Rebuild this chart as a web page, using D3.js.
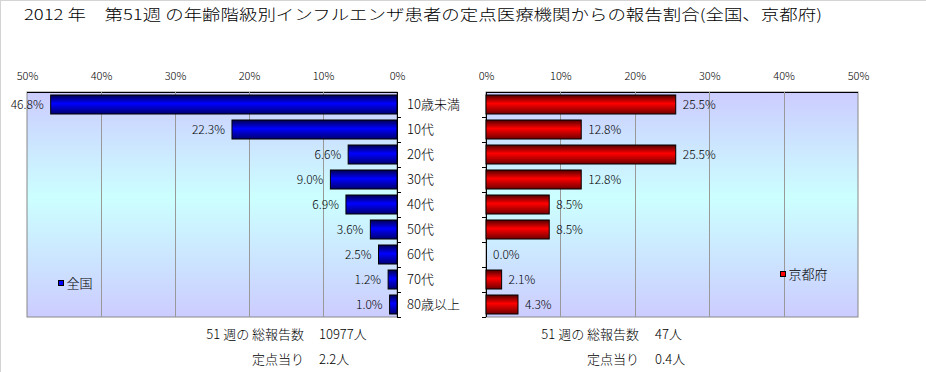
<!DOCTYPE html>
<html>
<head>
<meta charset="utf-8">
<script src="https://cdn.jsdelivr.net/npm/d3@7"></script>
<style>
  body { margin: 0; background: #fff; }
  svg text { font-family: "Noto Sans CJK JP", "Noto Sans", sans-serif; fill: #000; }
</style>
</head>
<body>
<script>
// data
let categories = ['10歳未満', '10代', '20代', '30代', '40代', '50代', '60代', '70代', '80歳以上'];
let zenkoku = [46.8, 22.3, 6.6, 9.0, 6.9, 3.6, 2.5, 1.2, 1.0];
let kyoto = [25.5, 12.8, 25.5, 12.8, 8.5, 8.5, 0.0, 2.1, 4.3];
let tickValues = [0, 10, 20, 30, 40, 50];
let titleText = '2012 年\u3000第51週 の年齢階級別インフルエンザ患者の定点医療機関からの報告割合(全国、京都府)';
let notes = [
  { label: '51 週の 総報告数', zen: '10977人', kyo: '47人' },
  { label: '定点当り', zen: '2.2人', kyo: '0.4人' }
];

let W = 926, H = 372;
let plotTop = 92, plotBottom = 317;

let svg = d3.select('body').append('svg')
  .attr('width', W)
  .attr('height', H);

let defs = svg.append('defs');

// plot background: lavender -> light cyan -> lavender
let bg = defs.append('linearGradient').attr('id', 'bg')
  .attr('x1', 0).attr('y1', 0).attr('x2', 0).attr('y2', 1);
bg.append('stop').attr('offset', 0).attr('stop-color', '#ccccff');
bg.append('stop').attr('offset', 0.47).attr('stop-color', '#ccffff');
bg.append('stop').attr('offset', 1).attr('stop-color', '#ccccff');

function barGrad(id, dark, mid, low) {
  let g = defs.append('linearGradient').attr('id', id)
    .attr('x1', 0).attr('y1', 0).attr('x2', 0).attr('y2', 1);
  g.append('stop').attr('offset', 0).attr('stop-color', dark);
  g.append('stop').attr('offset', 0.45).attr('stop-color', mid);
  g.append('stop').attr('offset', 1).attr('stop-color', low);
}
barGrad('blue', '#000050', '#0000ff', '#000070');
barGrad('red', '#500000', '#ff0000', '#700000');

// outer frame
svg.append('line').attr('x1', 0.5).attr('y1', 0).attr('x2', 0.5).attr('y2', H).attr('stroke', '#d4d4d4');
svg.append('line').attr('x1', 0).attr('y1', 0.5).attr('x2', W).attr('y2', 0.5).attr('stroke', '#d4d4d4');

// title
svg.append('text')
  .attr('x', 24).attr('y', 20)
  .attr('font-size', '15px')
  .attr('font-weight', 300)
  .attr('textLength', 798)
  .attr('lengthAdjust', 'spacingAndGlyphs')
  .text(titleText);

let y = d3.scaleBand()
  .domain(categories)
  .range([plotTop, plotBottom])
  .paddingInner(0.24)
  .paddingOuter(0.12);

let xL = d3.scaleLinear().domain([0, 50]).range([397, 27]);
let xR = d3.scaleLinear().domain([0, 50]).range([486, 858]);

function panel(x, values, fill, side) {
  let g = svg.append('g');
  let x0 = Math.min(x.range()[0], x.range()[1]);
  let x1 = Math.max(x.range()[0], x.range()[1]);

  g.append('rect')
    .attr('x', x0).attr('y', plotTop)
    .attr('width', x1 - x0).attr('height', plotBottom - plotTop)
    .attr('fill', 'url(#bg)')
    .attr('stroke', '#888');
  g.append('line')
    .attr('x1', x0).attr('x2', x1).attr('y1', plotTop + 0.5).attr('y2', plotTop + 0.5)
    .attr('stroke', '#000');

  // gridlines
  g.selectAll('.grid')
    .data(tickValues.filter(d => d > 0 && d < 50))
    .enter()
    .append('line')
    .attr('x1', d => Math.round(x(d)) + 0.5)
    .attr('x2', d => Math.round(x(d)) + 0.5)
    .attr('y1', plotTop).attr('y2', plotBottom)
    .attr('stroke', '#999');

  // category tick marks on the 0% edge
  let zero = x(0);
  let dir = side === 'left' ? 1 : -1;
  let bounds = categories.map(c => y(c) - y.step() * y.paddingInner() / 2).slice(1).concat([plotBottom]);
  g.selectAll('.cat-tick')
    .data(bounds)
    .enter()
    .append('line')
    .attr('x1', zero).attr('x2', zero + dir * 4)
    .attr('y1', d => Math.round(d) + 0.5).attr('y2', d => Math.round(d) + 0.5)
    .attr('stroke', '#000');
  g.append('line')
    .attr('x1', zero + 0.5).attr('x2', zero + 0.5).attr('y1', plotTop).attr('y2', plotBottom)
    .attr('stroke', '#000');

  // top axis
  let axis = g.append('g')
    .attr('transform', 'translate(0,84)')
    .call(d3.axisTop(x).tickValues(tickValues).tickFormat(d => d + '%').tickSize(0).tickPadding(4));
  axis.select('.domain').remove();
  axis.selectAll('text')
    .attr('font-size', '11px')
    .attr('font-family', '"Noto Sans CJK JP", sans-serif')
    .attr('font-weight', 300);

  // bars
  g.selectAll('.bar')
    .data(values)
    .enter()
    .append('rect')
    .attr('x', d => Math.min(x(0), x(d)))
    .attr('y', (d, i) => y(categories[i]))
    .attr('width', d => Math.abs(x(d) - x(0)))
    .attr('height', y.bandwidth())
    .attr('fill', d => d > 0 ? fill : 'none')
    .attr('stroke', d => d > 0 ? '#000' : 'none')
    .attr('stroke-width', 1);

  // value labels
  g.selectAll('.val')
    .data(values)
    .enter()
    .append('text')
    .attr('x', d => side === 'left' ? x(d) - 7 : x(d) + 7)
    .attr('y', (d, i) => y(categories[i]) + y.bandwidth() / 2)
    .attr('dy', '0.36em')
    .attr('text-anchor', side === 'left' ? 'end' : 'start')
    .attr('font-size', '12px')
    .attr('font-weight', 300)
    .text(d => d.toFixed(1) + '%');
}

panel(xL, zenkoku, 'url(#blue)', 'left');
panel(xR, kyoto, 'url(#red)', 'right');

// category labels between the panels
svg.selectAll('.cat')
  .data(categories)
  .enter()
  .append('text')
  .attr('x', 407)
  .attr('y', d => y(d) + y.bandwidth() / 2)
  .attr('dy', '0.36em')
  .attr('font-size', '13px')
  .attr('font-weight', 300)
  .text(d => d);

// legends
function legend(xp, yp, fill, label) {
  svg.append('rect')
    .attr('x', xp).attr('y', yp - 3)
    .attr('width', 5).attr('height', 5)
    .attr('fill', fill).attr('stroke', '#000');
  svg.append('text')
    .attr('x', xp + 8).attr('y', yp)
    .attr('dy', '0.36em')
    .attr('font-size', '13px')
    .attr('font-weight', 300)
    .text(label);
}
legend(58.5, 283.5, '#0000ff', '全国');
legend(780.5, 274.5, '#ff0000', '京都府');

// notes under the panels
notes.forEach((n, i) => {
  let yy = 339 + i * 25;
  svg.append('text').attr('x', 304).attr('y', yy).attr('text-anchor', 'end')
    .attr('font-size', '13px').attr('font-weight', 300).text(n.label);
  svg.append('text').attr('x', 319).attr('y', yy)
    .attr('font-size', '13px').attr('font-weight', 300).text(n.zen);
  svg.append('text').attr('x', 639).attr('y', yy).attr('text-anchor', 'end')
    .attr('font-size', '13px').attr('font-weight', 300).text(n.label);
  svg.append('text').attr('x', 655).attr('y', yy)
    .attr('font-size', '13px').attr('font-weight', 300).text(n.kyo);
});
</script>
</body>
</html>
